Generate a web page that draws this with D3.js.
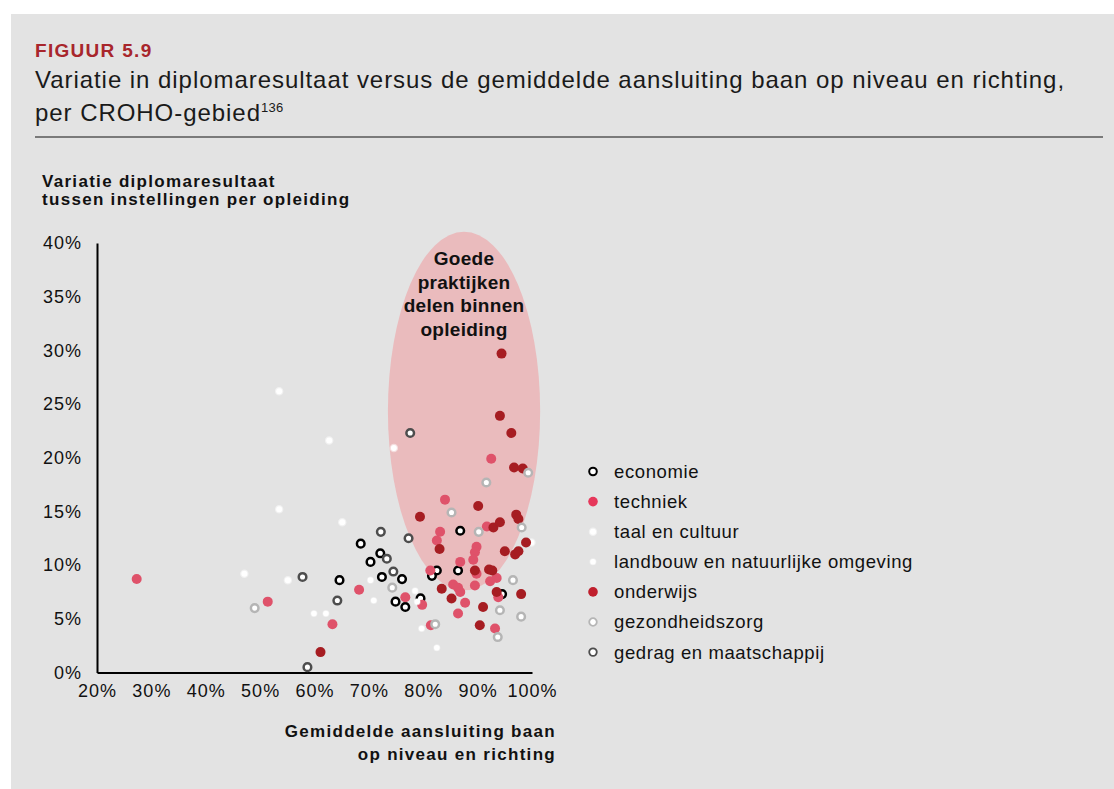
<!DOCTYPE html>
<html>
<head>
<meta charset="utf-8">
<script src="https://cdn.jsdelivr.net/npm/d3@7"></script>
<style>
  body { margin: 0; background: #fff; }
  svg text { font-family: "Liberation Sans", Arial, Helvetica, sans-serif; fill: #111; }
</style>
</head>
<body>
<svg id="chart"></svg>
<script>
// categories in legend (and drawing) order
const categories = ['economie', 'techniek', 'taal en cultuur', 'landbouw en natuurlijke omgeving',
                    'onderwijs', 'gezondheidszorg', 'gedrag en maatschappij']

// [gemiddelde aansluiting %, variatie diplomaresultaat %]
const economie = [[64.6, 8.6], [68.5, 12.0], [70.3, 10.3], [72.1, 11.1], [72.4, 8.9], [76.1, 8.7],
                  [74.9, 6.6], [76.7, 6.1], [79.5, 6.9], [82.5, 9.5], [81.6, 9.0], [86.4, 9.5],
                  [86.8, 13.2], [94.5, 7.3]]
const techniek = [[27.3, 8.7], [51.4, 6.6], [63.3, 4.5], [68.2, 7.7], [76.7, 7.0], [79.8, 6.3],
                  [81.4, 4.4], [81.3, 9.5], [83.1, 13.1], [82.5, 12.3], [84.0, 16.1], [86.8, 10.3],
                  [89.8, 11.7], [89.5, 11.2], [89.2, 10.5], [89.8, 9.2], [91.7, 13.6], [92.5, 19.9],
                  [93.5, 8.8], [92.3, 8.5], [85.5, 8.2], [86.4, 7.9], [86.8, 7.5], [89.5, 8.1],
                  [93.8, 7.0], [87.7, 6.5], [86.4, 5.5], [93.2, 4.1]]
const taalEnCultuur = [[53.5, 26.2], [62.7, 21.6], [74.6, 20.9], [53.5, 15.2], [65.1, 14.0],
                       [47.1, 9.2], [55.1, 8.6], [99.9, 12.1]]
const landbouw = [[59.9, 5.5], [62.1, 5.5], [70.3, 8.6], [70.9, 6.7], [78.5, 7.6], [78.9, 6.6],
                  [79.7, 4.1], [82.5, 2.3]]
const onderwijs = [[61.1, 1.9], [79.4, 14.5], [83.0, 11.5], [83.4, 7.8], [90.1, 15.5], [92.9, 13.5],
                   [94.1, 14.0], [97.1, 14.7], [97.5, 14.3], [98.9, 12.1], [95.0, 11.3], [96.9, 11.0],
                   [97.5, 11.3], [89.5, 9.5], [92.1, 9.6], [92.7, 9.5], [93.5, 7.5], [98.0, 7.3],
                   [85.2, 6.9], [91.0, 6.1], [90.4, 4.4], [94.4, 29.7], [94.1, 23.9], [96.2, 22.3],
                   [96.7, 19.1], [98.3, 19.0]]
const gezondheidszorg = [[49.0, 6.0], [74.3, 7.9], [82.2, 4.5], [85.2, 14.9], [90.2, 13.1], [91.6, 17.7],
                         [98.1, 13.5], [99.3, 18.6], [96.5, 8.6], [94.1, 5.8], [98.0, 5.2], [93.7, 3.3]]
const gedrag = [[57.8, 8.9], [64.2, 6.7], [58.7, 0.5], [72.2, 13.1], [73.3, 10.6], [74.5, 9.4],
                [77.3, 12.5], [77.6, 22.3]]

const xTicks = [20, 30, 40, 50, 60, 70, 80, 90, 100]
const yTicks = [0, 5, 10, 15, 20, 25, 30, 35, 40]

// highlighted area "goede praktijken": centre and radii in axis units
const zoneCenter = [87.5, 24.35]
const zoneRadius = [14, 16.7]
const zoneLabel = ['Goede', 'praktijken', 'delen binnen', 'opleiding']

const series = [economie, techniek, taalEnCultuur, landbouw, onderwijs, gezondheidszorg, gedrag]

// marker look per category
const markers = [
  {fill: '#fff', stroke: '#000', sw: 2.5, r: 3.8},
  {fill: '#df526a', stroke: 'none', sw: 0, r: 5},
  {fill: '#fff', stroke: 'rgba(255,255,255,0.5)', sw: 2.5, r: 3},
  {fill: '#fff', stroke: 'rgba(255,255,255,0.4)', sw: 1.5, r: 2.8},
  {fill: '#a61d22', stroke: 'none', sw: 0, r: 5},
  {fill: '#fff', stroke: '#b5b5b5', sw: 2.5, r: 3.8},
  {fill: '#fff', stroke: '#4d4d4d', sw: 2.5, r: 3.8}
]
const legendMarkers = [
  {fill: '#fff', stroke: '#000', sw: 2, r: 3.8},
  {fill: '#e6385b', stroke: 'none', sw: 0, r: 4.8},
  {fill: '#fff', stroke: 'rgba(255,255,255,0.5)', sw: 2.5, r: 3},
  {fill: '#fff', stroke: 'rgba(255,255,255,0.4)', sw: 1.5, r: 2.8},
  {fill: '#c01f2d', stroke: 'none', sw: 0, r: 4.8},
  {fill: '#fff', stroke: '#b5b5b5', sw: 1.8, r: 3.8},
  {fill: '#fff', stroke: '#4d4d4d', sw: 1.8, r: 3.8}
]

const W = 1114, H = 789

const svg = d3.select('#chart')
    .attr('width', W)
    .attr('height', H)

svg.append('rect')
    .attr('x', 11).attr('y', 14)
    .attr('width', W - 11).attr('height', H - 14)
    .attr('fill', '#e3e3e3')

// header
svg.append('text')
    .attr('x', 35).attr('y', 57)
    .attr('font-size', 19).attr('font-weight', 'bold')
    .attr('letter-spacing', 1.3)
    .style('fill', '#a8262c')
    .text('FIGUUR 5.9')

svg.append('text')
    .attr('x', 35).attr('y', 88)
    .attr('font-size', 24)
    .attr('letter-spacing', 0.95)
    .style('fill', '#1a1a1a')
    .text('Variatie in diplomaresultaat versus de gemiddelde aansluiting baan op niveau en richting,')

const t2 = svg.append('text')
    .attr('x', 35).attr('y', 121)
    .attr('font-size', 24)
    .attr('letter-spacing', 0.95)
    .style('fill', '#1a1a1a')
t2.append('tspan').text('per CROHO-gebied')
t2.append('tspan').attr('font-size', 13).attr('dy', -9).attr('letter-spacing', 0.3).text('136')

svg.append('line')
    .attr('x1', 35).attr('x2', 1103)
    .attr('y1', 137).attr('y2', 137)
    .attr('stroke', '#7a7a7a').attr('stroke-width', 2)

// scales
const x = d3.scaleLinear().domain([20, 100]).range([97, 532])
const y = d3.scaleLinear().domain([0, 40]).range([672.5, 243])

// highlighted zone
svg.append('ellipse')
    .attr('cx', x(zoneCenter[0]))
    .attr('cy', y(zoneCenter[1]))
    .attr('rx', x(zoneCenter[0] + zoneRadius[0]) - x(zoneCenter[0]))
    .attr('ry', y(zoneCenter[1]) - y(zoneCenter[1] + zoneRadius[1]))
    .attr('fill', '#eabbbd')

svg.append('g')
    .selectAll('text')
    .data(zoneLabel)
    .join('text')
        .attr('x', x(zoneCenter[0]))
        .attr('y', (d, i) => 265 + i * 23.5)
        .attr('text-anchor', 'middle')
        .attr('font-size', 19)
        .attr('font-weight', 'bold')
        .attr('letter-spacing', 0.3)
        .text(d => d)

// axes
const xAxis = d3.axisBottom(x).tickValues(xTicks).tickSize(0).tickPadding(12).tickFormat(d => d + '%')
const yAxis = d3.axisLeft(y).tickValues(yTicks).tickSize(0).tickPadding(15).tickFormat(d => d + '%')

const xAxisG = svg.append('g')
    .attr('transform', `translate(0, ${y(0)})`)
    .call(xAxis)
const yAxisG = svg.append('g')
    .attr('transform', `translate(${x(20)}, 0)`)
    .call(yAxis)

;[xAxisG, yAxisG].forEach(g => {
  g.select('.domain').attr('stroke', '#000').attr('stroke-width', 2)
  g.selectAll('text')
      .attr('font-size', 18)
      .attr('letter-spacing', 1)
      .attr('font-family', null)
      .style('fill', '#111')
})

// axis titles
svg.append('g')
    .selectAll('text')
    .data(['Variatie diplomaresultaat', 'tussen instellingen per opleiding'])
    .join('text')
        .attr('x', 42)
        .attr('y', (d, i) => 187 + i * 18)
        .attr('font-size', 17)
        .attr('font-weight', 'bold')
        .attr('letter-spacing', 1.3)
        .text(d => d)

svg.append('g')
    .selectAll('text')
    .data(['Gemiddelde aansluiting baan', 'op niveau en richting'])
    .join('text')
        .attr('x', 556)
        .attr('y', (d, i) => 737 + i * 22.5)
        .attr('text-anchor', 'end')
        .attr('font-size', 17)
        .attr('font-weight', 'bold')
        .attr('letter-spacing', 1.3)
        .text(d => d)

// points, one group per category
const pts = svg.append('g')
series.forEach((data, i) => {
  const m = markers[i]
  pts.append('g')
      .attr('class', 'series')
      .selectAll('circle')
      .data(data)
      .join('circle')
          .attr('cx', d => x(d[0]))
          .attr('cy', d => y(d[1]))
          .attr('r', m.r)
          .attr('fill', m.fill)
          .attr('stroke', m.stroke)
          .attr('stroke-width', m.sw)
})

// legend
const legend = svg.append('g')
    .attr('transform', 'translate(593, 471.5)')
const rows = legend.selectAll('g')
    .data(categories)
    .join('g')
        .attr('transform', (d, i) => `translate(0, ${i * 30.1})`)
rows.append('circle')
    .attr('r', (d, i) => legendMarkers[i].r)
    .attr('fill', (d, i) => legendMarkers[i].fill)
    .attr('stroke', (d, i) => legendMarkers[i].stroke)
    .attr('stroke-width', (d, i) => legendMarkers[i].sw)
rows.append('text')
    .attr('x', 21)
    .attr('dy', '0.35em')
    .attr('font-size', 18.5)
    .attr('letter-spacing', 0.6)
    .text(d => d)
</script>
</body>
</html>
